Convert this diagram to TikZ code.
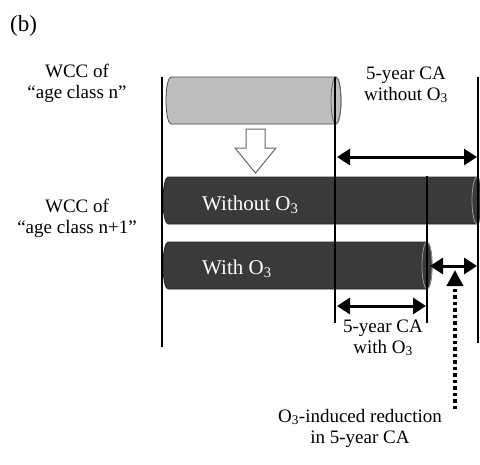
\documentclass[tikz,border=0pt]{standalone}
\usepackage{fontspec}
\setmainfont{Liberation Serif}
\usetikzlibrary{arrows.meta}
\tikzset{
  lbl/.style={align=center, inner sep=0pt, font=\fontsize{19}{21}\selectfont},
  intext/.style={anchor=base west, inner sep=0pt, text=white, font=\fontsize{21}{24}\selectfont},
  vline/.style={line width=1.8pt, black},
  dbl/.style={line width=3pt, {Triangle[length=13pt,width=16pt]}-{Triangle[length=13pt,width=16pt]}},
  dotarrow/.style={line width=3.8pt, dash pattern=on 3.5pt off 3pt, -{Triangle[length=16pt,width=16pt]}},
  greycyl/.style={fill=cylgrey, draw=black!70, line width=0.8pt},
  darkcyl/.style={fill=cyldark, draw=black!85, line width=0.8pt},
  capline/.style={draw=black!60, line width=0.8pt},
  darkcap/.style={draw=gray!80, line width=0.8pt},
}
\definecolor{cylgrey}{RGB}{190,190,190}
\definecolor{cyldark}{RGB}{58,58,58}
\begin{document}
\begin{tikzpicture}[x=1pt,y=-1pt]
\useasboundingbox (0,0) rectangle (480,464);
% cylinders
\path[greycyl] (171,77) -- (336,77) arc[start angle=90,end angle=-90,x radius=5pt,y radius=23.5pt] -- (171,124) arc[start angle=270,end angle=90,x radius=5pt,y radius=23.5pt] -- cycle;
\draw[capline] (336,100.5) ellipse[x radius=5pt,y radius=23.5pt];
\path[darkcyl] (168,177) -- (477,177) arc[start angle=90,end angle=-90,x radius=5pt,y radius=23.5pt] -- (168,224) arc[start angle=270,end angle=90,x radius=5pt,y radius=23.5pt] -- cycle;
\draw[darkcap] (477,200.5) ellipse[x radius=5pt,y radius=23.5pt];
\path[darkcyl] (168,242) -- (427,242) arc[start angle=90,end angle=-90,x radius=5pt,y radius=23.5pt] -- (168,289) arc[start angle=270,end angle=90,x radius=5pt,y radius=23.5pt] -- cycle;
\draw[darkcap] (427,265.5) ellipse[x radius=5pt,y radius=23.5pt];
% open arrow
\draw[draw=black!60, fill=white, line width=1pt] (246,129) -- (265,129) -- (265,148) -- (276,148) -- (255.5,173) -- (235,148) -- (246,148) -- cycle;
% vertical lines
\coordinate (l1t) at (162,77);  \coordinate (l1b) at (162,347);
\coordinate (l2t) at (335,77);  \coordinate (l2b) at (335,323);
\coordinate (l3t) at (427,176); \coordinate (l3b) at (427,323);
\coordinate (l4t) at (478,77);  \coordinate (l4b) at (478,343);
\draw[vline] (l1t) -- (l1b);
\draw[vline] (l2t) -- (l2b);
\draw[vline] (l3t) -- (l3b);
\draw[vline] (l4t) -- (l4b);
% double arrows
\coordinate (a1l) at (337,157); \coordinate (a1r) at (477,157);
\coordinate (a2l) at (430,266); \coordinate (a2r) at (477,266);
\coordinate (a3l) at (337,306); \coordinate (a3r) at (426,306);
\draw[dbl] (a1l) -- (a1r);
\draw[dbl] (a2l) -- (a2r);
\draw[dbl] (a3l) -- (a3r);
% dotted arrow
\coordinate (dbot) at (455,409); \coordinate (dtop) at (455,270);
\draw[dotarrow] (dbot) -- (dtop);
% texts
\node[anchor=base west, inner sep=0pt, font=\fontsize{23}{26}\selectfont] (b) at (10,31) {(b)};
\node[lbl, anchor=base] (wccn) at (77,98) {WCC of\\“age class n”};
\node[lbl, anchor=base] (wccn1) at (77,233) {WCC of\\“age class n+1”};
\node[lbl, anchor=base] (cawo) at (406,100) {5-year CA\\without O\textsubscript{3}};
\node[lbl, anchor=base] (caw) at (383,353) {5-year CA\\with O\textsubscript{3}};
\node[lbl, anchor=base] (red) at (360,443) {O\textsubscript{3}-induced reduction\\in 5-year CA};
\node[intext] (wo) at (202,210) {Without O\textsubscript{3}};
\node[intext] (w) at (202,274) {With O\textsubscript{3}};
\end{tikzpicture}
\end{document}
